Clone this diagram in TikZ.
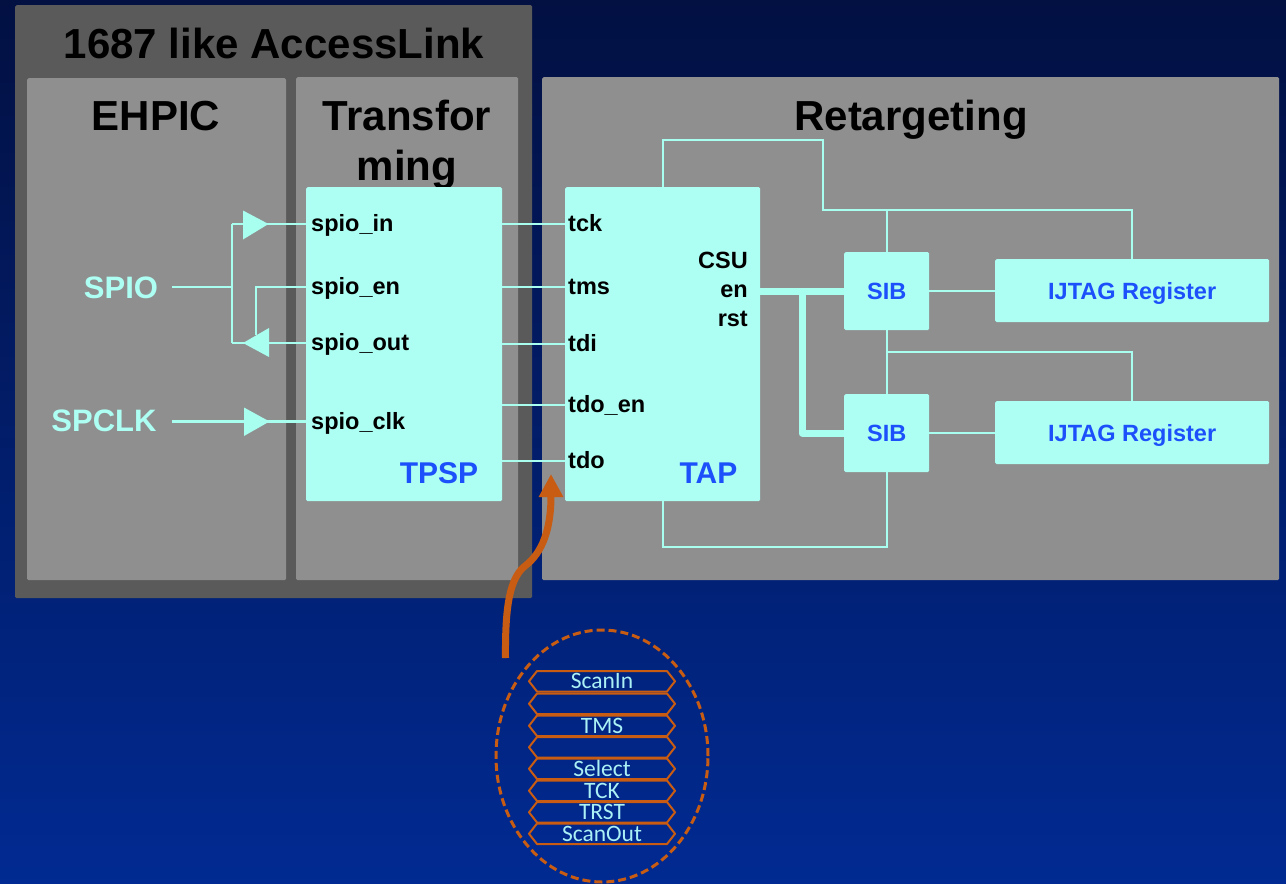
\documentclass[tikz,border=0pt]{standalone}
\usepackage{fontspec}
\setmainfont{Liberation Sans}
\newfontfamily\calib{Carlito}
\usetikzlibrary{shapes.geometric,arrows.meta}
\definecolor{cyanbox}{RGB}{173,255,243}
\definecolor{wirec}{RGB}{168,255,240}
\definecolor{lgray}{RGB}{143,143,143}
\definecolor{dgray}{RGB}{90,90,90}
\definecolor{bluet}{RGB}{28,80,250}
\definecolor{orng}{RGB}{200,92,18}
\definecolor{bgtop}{RGB}{2,16,66}
\definecolor{bgmid}{RGB}{2,36,128}
\definecolor{bgbot}{RGB}{1,42,146}
\definecolor{hext}{RGB}{170,240,245}
\begin{document}
\begin{tikzpicture}[x=1pt,y=-1pt,
  panel/.style={fill=lgray, rounded corners=1.5pt, anchor=north west, inner sep=0pt},
  cbox/.style={fill=cyanbox, rounded corners=1.5pt, anchor=north west, inner sep=0pt},
  wire/.style={draw=wirec, line width=2.2pt},
  thickwire/.style={draw=wirec, line width=7pt, line join=round},
  ttl/.style={font=\fontsize{42}{50}\selectfont\bfseries, anchor=base, inner sep=0pt},
  lbl/.style={font=\fontsize{23.5}{27}\selectfont\bfseries, inner sep=0pt, anchor=base west},
  rlbl/.style={font=\fontsize{23.5}{27}\selectfont\bfseries, inner sep=0pt, anchor=base east},
  bigblue/.style={font=\fontsize{30}{36}\selectfont\bfseries, text=bluet, inner sep=0pt, anchor=base},
  sig/.style={font=\fontsize{31}{37}\selectfont\bfseries, text=cyanbox, inner sep=0pt},
  hexlbl/.style={font=\calib\fontsize{23.5}{24}\selectfont, text=hext, inner sep=0pt},
  hexbar/.style={draw=orng, line width=2pt, line join=round},
  buf/.style={fill=wirec}
]
\useasboundingbox (0,0) rectangle (1286,884);
\shade[top color=bgtop, middle color=bgmid, bottom color=bgbot] (0,0) rectangle (1286,884);

% panels
\node[panel, fill=dgray, minimum width=517pt, minimum height=593pt] (outer) at (15,5) {};
\node[panel, minimum width=259pt, minimum height=502pt] (ehp) at (27,78) {};
\node[panel, minimum width=222pt, minimum height=503pt] (trf) at (296,77) {};
\node[panel, minimum width=737pt, minimum height=503pt] (ret) at (542,77) {};

% titles
\node[ttl] (t1) at (274,58) {1687 like AccessLink};
\node[ttl] (t2) at (156,130) {EHPIC};
\node[ttl] (t3) at (407,130) {Transfor};
\node[ttl] (t4) at (407,180) {ming};
\node[ttl] (t5) at (911,130) {Retargeting};

% main boxes
\node[cbox, minimum width=196pt, minimum height=314pt] (tpsp) at (306,187) {};
\node[cbox, minimum width=195pt, minimum height=314pt] (tap) at (565,187) {};
\node[cbox, minimum width=85pt, minimum height=78pt, font=\fontsize{23.5}{27}\selectfont\bfseries, text=bluet] (sib1) at (844,252) {SIB};
\node[cbox, minimum width=85pt, minimum height=78pt, font=\fontsize{23.5}{27}\selectfont\bfseries, text=bluet] (sib2) at (844,394) {SIB};
\node[cbox, minimum width=274pt, minimum height=63pt, font=\fontsize{23.5}{27}\selectfont\bfseries, text=bluet, text depth=0pt] (ij1) at (995,259) {IJTAG Register};
\node[cbox, minimum width=274pt, minimum height=63pt, font=\fontsize{23.5}{27}\selectfont\bfseries, text=bluet, text depth=0pt] (ij2) at (995,401) {IJTAG Register};

% TPSP labels (baseline 7.5 below the wire)
\node[lbl] (pin) at (311,231.5) {spio\_in};
\node[lbl] (pen) at (311,294.5) {spio\_en};
\node[lbl] (pout) at (311,350.5) {spio\_out};
\node[lbl] (pclk) at (311,429) {spio\_clk};
\node[bigblue] (tpspl) at (439,483) {TPSP};

% TAP labels
\node[lbl] (tck) at (568,231.5) {tck};
\node[lbl] (tms) at (568,294.5) {tms};
\node[lbl] (tdi) at (568,351.5) {tdi};
\node[lbl] (tdoen) at (568,412.5) {tdo\_en};
\node[lbl] (tdo) at (568,468.5) {tdo};
\node[rlbl] (csu) at (748,268) {CSU};
\node[rlbl] (en) at (748,297) {en};
\node[rlbl] (rst) at (748,326) {rst};
\node[bigblue] (tapl) at (708.5,483) {TAP};

% pin points at mid x-height of each label
\foreach \n in {pin,pen,pout,pclk,tck,tms,tdi,tdoen,tdo}
  \coordinate (\n-p) at ([yshift=7.5pt]\n.base west);

% TPSP-TAP wires
\foreach \n in {tck,tms,tdi,tdoen,tdo}
  \draw[wire] (tpsp.east |- \n-p) -- (tap.west |- \n-p);

% retargeting network
\draw[wire] (tap.north) -- (tap.north |- 0,140) -| (823,210) -| (ij1.north);
\draw[wire] (sib1.north) -- (sib1.north |- 0,210);
\draw[wire] (sib1.south) -- (sib2.north);
\draw[wire] (sib1.south |- 0,352) -| (ij2.north);
\draw[wire] (sib1.east) -- (ij1.west |- sib1.east);
\draw[wire] (sib2.east) -- (ij2.west |- sib2.east);
\draw[wire] (sib2.south) -- (sib2.south |- 0,547) -| (tap.south);
\draw[thickwire] (tap.east |- sib1.west) -- (sib1.west);
\draw[thickwire] (802,291) |- (sib2.west);

% left side signals
\node[sig] (spio) at (121,288) {SPIO};
\node[sig] (spclk) at (104,421) {SPCLK};
\coordinate (spioend) at (172,287);
\coordinate (spclkend) at (172,421.5);
\coordinate (jn) at (232,287);
\draw[wire] (spioend) -- (jn);
\draw[wire] (232,224) -- (232,343);
\draw[wire] (232,224) -- (tpsp.west |- pin-p);
\draw[wire] (232,343) -- (tpsp.west |- pout-p);
\draw[wire] (tpsp.west |- pen-p) -| (256,335);
\draw[wire] (spclkend) -- (tpsp.west |- pclk-p);
\fill[buf] (243,210.5) -- (268.5,224) -- (243,239.5) -- cycle;
\fill[buf] (243,343) -- (269,328) -- (269,357) -- cycle;
\fill[buf] (244,407.5) -- (269.5,421.5) -- (244,436) -- cycle;

% orange arrow
\coordinate (ast) at (505.5,658);
\coordinate (aend) at (551,474);
\draw[orng, line width=7pt, -{Triangle[width=23pt,length=23pt]}]
  (ast) .. controls (505,605) and (510,578) .. (525,566)
        .. controls (542,553) and (551,530) .. (aend);

% dashed ellipse with signal bars
\node[ellipse, draw=orng, line width=3pt, dash pattern=on 8pt off 4pt,
      minimum width=212pt, minimum height=252pt, inner sep=0pt] (ell) at (602,756) {};
\foreach \t/\lab [count=\i] in {671/ScanIn,693.5/{},715.5/TMS,737/{},758.5/Select,780.5/TCK,802/TRST,823.5/ScanOut}{
  \draw[hexbar] (529,\t+10.25) -- (537,\t) -- (667,\t) -- (675,\t+10.25) -- (667,\t+20.5) -- (537,\t+20.5) -- cycle;
  \node[hexlbl] (hx\i) at (602,\t+10.25) {\lab};
}
\end{tikzpicture}
\end{document}
